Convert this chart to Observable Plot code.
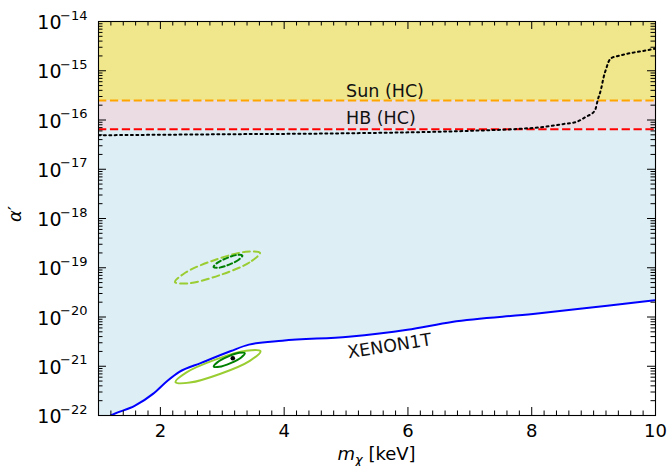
<!DOCTYPE html>
<html><head><meta charset="utf-8">
<script src="https://cdn.jsdelivr.net/npm/d3@7"></script>
<script src="https://cdn.jsdelivr.net/npm/@observablehq/plot@0.6"></script>
<style>
body{margin:0;background:#fff;}
svg{font-family:"DejaVu Sans",sans-serif;}
</style>
</head><body><div id="chart"></div>
<script>
// ---- data ----
const xenonMass  = [1.0, 1.2, 1.59, 1.88, 2.12, 2.30, 2.66, 3.14, 3.43, 3.97, 5.04, 5.99, 6.71, 8.02, 9.22, 10.0];
const xenonAlpha = [7e-23, 1.0e-22, 1.58e-22, 2.75e-22, 5.13e-22, 7.59e-22, 1.17e-21, 2.04e-21, 2.75e-21, 3.31e-21, 3.98e-21, 5.50e-21, 7.94e-21, 1.15e-20, 1.70e-20, 2.19e-20];

const dottedMass  = [1.0, 3.0, 5.0, 7.0, 7.8, 8.2, 8.52, 8.71, 8.87, 9.02, 9.07, 9.12, 9.16, 9.21, 9.24, 9.29, 9.38, 9.56, 9.74, 9.92, 10.0];
const dottedAlpha = [4.9e-17, 5.13e-17, 5.37e-17, 6.03e-17, 6.61e-17, 7.24e-17, 8.32e-17, 9.02e-17, 1.15e-16, 1.55e-16, 2.63e-16, 4.22e-16, 7.24e-16, 1.17e-15, 1.51e-15, 1.82e-15, 1.97e-15, 2.24e-15, 2.45e-15, 2.69e-15, 2.82e-15];

const sunHC = 2.5e-16;
const hbHC  = 6.5e-17;
const yTop = 1e-14, yBottom = 1e-22;
const massRange = [1, 10];

const ellLightDashedX = [3.609, 3.438, 2.964, 2.466, 2.236, 2.407, 2.880, 3.379];
const ellLightDashedY = [2.01e-19, 1.28e-19, 7.11e-20, 4.85e-20, 5.11e-20, 8.0e-20, 1.44e-19, 2.11e-19];
const ellDarkDashedX  = [3.324, 3.271, 3.113, 2.943, 2.860, 2.913, 3.071, 3.241];
const ellDarkDashedY  = [1.77e-19, 1.47e-19, 1.16e-19, 1.00e-19, 1.03e-19, 1.24e-19, 1.57e-19, 1.82e-19];
const ellLightSolidX  = [3.617, 3.445, 2.972, 2.475, 2.244, 2.416, 2.889, 3.386];
const ellLightSolidY  = [2.02e-21, 1.29e-21, 7.05e-22, 4.66e-22, 4.75e-22, 7.41e-22, 1.36e-21, 2.06e-21];
const ellDarkSolidX   = [3.364, 3.306, 3.135, 2.951, 2.862, 2.920, 3.091, 3.275];
const ellDarkSolidY   = [1.84e-21, 1.51e-21, 1.16e-21, 9.73e-22, 9.88e-22, 1.20e-21, 1.57e-21, 1.87e-21];

const bestFit = [{m: 3.17, a: 1.45e-21}];

const xTickValues = [2, 4, 6, 8, 10];
const xTickLabels = ["2", "4", "6", "8", "10"];
const yTickExponents = [-22, -21, -20, -19, -18, -17, -16, -15, -14];
const yTickLabels = ["−22", "−21", "−20", "−19", "−18", "−17", "−16", "−15", "−14"];

const regionLabels = [
  {m: 5.0, a: 3.0e-16, t: "Sun (HC)", r: 0},
  {m: 5.0, a: 8.4e-17, t: "HB (HC)", r: 0},
  {m: 5.04, a: 1.45e-21, t: "XENON1T", r: -9}
];

// ---- build tables ----
const zip = (xs, ys) => xs.map((x, i) => ({m: x, a: ys[i]}));
const xenon = zip(xenonMass, xenonAlpha);
const dotted = zip(dottedMass, dottedAlpha);
const yMajor = yTickExponents.map((e, i) => ({v: Math.pow(10, e), lab: yTickLabels[i]}));
const yMinor = [];
for (let e = -22; e < -14; e++) for (let k = 2; k <= 9; k++) yMinor.push(k * Math.pow(10, e));
const xMinor = d3.range(6, 50).filter(i => i % 10 !== 0).map(i => i / 5);

const W = 668, H = 466, mL = 98, mR = 13, mT = 21, mB = 51;
const pH = H - mT - mB, pW = W - mL - mR;
const maj = 8, mnr = 4.5;

const dash = "8.3,3.6";
const lightGreen = "#9acd32", darkGreen = "#008000";

const plot = Plot.plot({
  width: W, height: H,
  marginLeft: mL, marginRight: mR, marginTop: mT, marginBottom: mB,
  x: {domain: massRange, axis: null},
  y: {type: "log", domain: [yBottom, yTop], axis: null},
  style: {fontFamily: "DejaVu Sans, sans-serif", background: "white"},
  marks: [
    Plot.areaY(massRange, {x: d => d, y1: sunHC, y2: yTop, fill: "#f0e68c", clip: true}),
    Plot.areaY(massRange, {x: d => d, y1: hbHC, y2: sunHC, fill: "#ebdce3", clip: true}),
    Plot.areaY(xenon, {x: "m", y1: "a", y2: hbHC, curve: "monotone-x", fill: "#ddeef5", clip: true}),
    Plot.ruleY([sunHC], {stroke: "#ffa500", strokeWidth: 2, strokeDasharray: dash}),
    Plot.ruleY([hbHC], {stroke: "#ff0000", strokeWidth: 2, strokeDasharray: dash}),
    Plot.line(dotted, {x: "m", y: "a", curve: "monotone-x", stroke: "#000000", strokeWidth: 2, strokeDasharray: "2,3.4", clip: true}),
    Plot.line(xenon, {x: "m", y: "a", curve: "monotone-x", stroke: "#0000ff", strokeWidth: 2, clip: true}),
    Plot.line(zip(ellLightDashedX, ellLightDashedY), {x: "m", y: "a", curve: "catmull-rom-closed", stroke: lightGreen, strokeWidth: 2, strokeDasharray: "7,4"}),
    Plot.line(zip(ellDarkDashedX, ellDarkDashedY), {x: "m", y: "a", curve: "catmull-rom-closed", stroke: darkGreen, strokeWidth: 2, strokeDasharray: "5,3"}),
    Plot.line(zip(ellLightSolidX, ellLightSolidY), {x: "m", y: "a", curve: "catmull-rom-closed", stroke: lightGreen, strokeWidth: 2}),
    Plot.line(zip(ellDarkSolidX, ellDarkSolidY), {x: "m", y: "a", curve: "catmull-rom-closed", stroke: darkGreen, strokeWidth: 2}),
    Plot.dot(bestFit, {x: "m", y: "a", r: 2.3, fill: "#000000"}),
    Plot.text(regionLabels, {x: "m", y: "a", text: "t", rotate: "r", textAnchor: "start", lineAnchor: "bottom", fontSize: 17.5, fill: "#111111"}),
    // ticks (inside, all four sides)
    Plot.ruleX(xTickValues, {x: d => d, insetTop: pH - maj, stroke: "#000000"}),
    Plot.ruleX(xTickValues, {x: d => d, insetBottom: pH - maj, stroke: "#000000"}),
    Plot.ruleX(xMinor, {x: d => d, insetTop: pH - mnr, stroke: "#000000"}),
    Plot.ruleX(xMinor, {x: d => d, insetBottom: pH - mnr, stroke: "#000000"}),
    Plot.ruleY(yMajor, {y: "v", insetRight: pW - maj, stroke: "#000000"}),
    Plot.ruleY(yMajor, {y: "v", insetLeft: pW - maj, stroke: "#000000"}),
    Plot.ruleY(yMinor, {y: d => d, insetRight: pW - mnr, stroke: "#000000"}),
    Plot.ruleY(yMinor, {y: d => d, insetLeft: pW - mnr, stroke: "#000000"}),
    Plot.frame({stroke: "#000000", strokeWidth: 1.1}),
    // tick labels
    Plot.text(xTickValues, {x: d => d, y: yBottom, text: (d, i) => xTickLabels[i], lineAnchor: "bottom", dy: 21, fontSize: 18, fill: "#000000"}),
    Plot.text(yMajor, {x: 1, y: "v", text: () => "10", textAnchor: "end", lineAnchor: "bottom", dx: -37, dy: 7.5, fontSize: 19, fill: "#000000"}),
    Plot.text(yMajor, {x: 1, y: "v", text: "lab", textAnchor: "end", lineAnchor: "bottom", dx: -11, dy: -2, fontSize: 13, fill: "#000000"})
  ]
});

const svg = d3.select(plot);
// axis titles
const xl = svg.append("text").attr("x", mL + pW / 2).attr("y", 460).attr("text-anchor", "middle")
  .attr("font-size", 18).attr("fill", "black");
xl.append("tspan").attr("font-style", "italic").text("m");
xl.append("tspan").attr("font-style", "italic").attr("font-size", 13).attr("dy", 4).text("χ");
xl.append("tspan").attr("dy", -4).text(" [keV]");

const yl = svg.append("text").attr("transform", "translate(21,214) rotate(-90)").attr("text-anchor", "middle")
  .attr("font-size", 18).attr("fill", "black");
yl.append("tspan").attr("font-style", "italic").text("α");
yl.append("tspan").text("′");

document.getElementById("chart").appendChild(plot);
</script>
</body></html>
